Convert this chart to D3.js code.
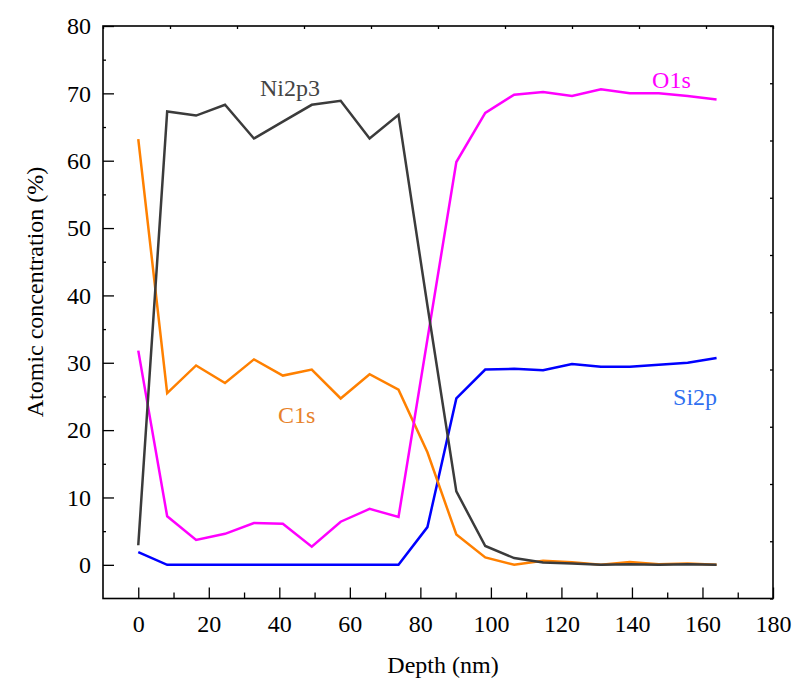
<!DOCTYPE html>
<html>
<head>
<meta charset="utf-8">
<script src="https://cdn.jsdelivr.net/npm/d3@7"></script>
<style>
body { margin: 0; background: #fff; }
svg text { font-family: "Liberation Serif", "Times New Roman", serif; }
</style>
</head>
<body>
<script>
//depth profile data
var depth = [0, 8.2, 16.4, 24.6, 32.8, 41, 49.2, 57.4, 65.6, 73.8, 82, 90.2, 98.4, 106.6, 114.8, 123, 131.2, 139.4, 147.6, 155.8, 164];
var ni2p3 = [2.9, 67.3, 66.7, 68.3, 63.3, 65.8, 68.3, 68.9, 63.3, 66.8, 38.5, 10.9, 2.8, 1.0, 0.35, 0.2, 0.0, 0.1, 0.0, 0.1, 0.0];
var c1s = [63.2, 25.5, 29.6, 27.0, 30.5, 28.1, 29.0, 24.7, 28.3, 26.0, 16.7, 4.5, 1.1, 0.0, 0.6, 0.4, 0.0, 0.4, 0.1, 0.2, 0.0];
var o1s = [31.8, 7.2, 3.7, 4.6, 6.2, 6.1, 2.7, 6.4, 8.3, 7.1, 33.5, 59.8, 67.1, 69.8, 70.2, 69.6, 70.6, 70.0, 70.0, 69.6, 69.1];
var si2p = [1.9, 0, 0, 0, 0, 0, 0, 0, 0, 0, 5.6, 24.7, 29.0, 29.1, 28.9, 29.8, 29.4, 29.4, 29.7, 30.0, 30.7];

//tick values
var xTicks = [0, 20, 40, 60, 80, 100, 120, 140, 160, 180];
var xMinor = [10, 30, 50, 70, 90, 110, 130, 150, 170];
var yTicks = [0, 10, 20, 30, 40, 50, 60, 70, 80];
var yMinor = [5, 15, 25, 35, 45, 55, 65, 75];

//curve labels (centre x, baseline y in data units)
var labelNames = ["Ni2p3", "O1s", "C1s", "Si2p"];
var labelX = [43, 151.2, 44.9, 157.9];
var labelY = [69.6, 70.8, 21.0, 23.7];

var lineColors = {"Ni2p3": "#3b3b3b", "O1s": "#ff00ff", "C1s": "#ff8000", "Si2p": "#0000ff"};
var labelColors = {"Ni2p3": "#444444", "O1s": "#ff00ff", "C1s": "#e8822a", "Si2p": "#2f6ff0"};

setChart();

//centre a text by hand (start anchor) using its measured length
function centreText(sel){
    sel.each(function(){
        var node = d3.select(this);
        var len = this.getComputedTextLength();
        node.attr("x", +node.attr("x") - len / 2);
    });
};

function setChart(){
    var width = 795,
        height = 687;
    var left = 103, top = 26, plotW = 670, plotH = 572.5;

    var svg = d3.select("body")
        .append("svg")
        .attr("width", width)
        .attr("height", height);

    var x = d3.scaleLinear().domain([-10, 180]).range([left, left + plotW]);
    var y = d3.scaleLinear().domain([-5, 80]).range([top + plotH, top]);

    //bottom axis, ticks pointing inward
    var xAxis = svg.append("g")
        .attr("transform", "translate(0," + (top + plotH) + ")")
        .call(d3.axisBottom(x).tickValues(xTicks).tickSize(-11).tickPadding(16));
    svg.append("g")
        .attr("transform", "translate(0," + (top + plotH) + ")")
        .call(d3.axisBottom(x).tickValues(xMinor).tickSize(-6).tickFormat(""));

    //left axis
    var yAxis = svg.append("g")
        .attr("transform", "translate(" + left + ",0)")
        .call(d3.axisLeft(y).tickValues(yTicks).tickSize(-11).tickPadding(12));
    svg.append("g")
        .attr("transform", "translate(" + left + ",0)")
        .call(d3.axisLeft(y).tickValues(yMinor).tickSize(-3).tickFormat(""));

    //top and right axes only carry small marks at tenths of the frame
    var fx = d3.scaleLinear().domain([0, 10]).range([left, left + plotW]);
    var fy = d3.scaleLinear().domain([0, 10]).range([top + plotH, top]);
    svg.append("g")
        .attr("transform", "translate(0," + top + ")")
        .call(d3.axisTop(fx).ticks(10).tickSize(-3).tickFormat(""));
    svg.append("g")
        .attr("transform", "translate(" + (left + plotW) + ",0)")
        .call(d3.axisRight(fy).ticks(10).tickSize(-3).tickFormat(""));

    svg.selectAll("g")
        .attr("font-family", null)
        .attr("text-anchor", null)
        .attr("font-size", 24);
    svg.selectAll(".domain").remove();
    svg.selectAll(".tick line")
        .attr("stroke", "#000")
        .attr("stroke-width", 1.3);
    svg.selectAll(".tick text").attr("fill", "#000");

    //x labels: centre on tick; y labels: right edge 12px left of axis
    xAxis.selectAll(".tick text").attr("x", 0).call(centreText);
    yAxis.selectAll(".tick text").each(function(){
        d3.select(this).attr("x", -12 - this.getComputedTextLength());
    });

    //frame
    svg.append("rect")
        .attr("x", left)
        .attr("y", top)
        .attr("width", plotW)
        .attr("height", plotH)
        .attr("fill", "none")
        .attr("stroke", "#000")
        .attr("stroke-width", 1.6);

    //lines
    var series = [
        {name: "Si2p", values: si2p},
        {name: "C1s", values: c1s},
        {name: "O1s", values: o1s},
        {name: "Ni2p3", values: ni2p3}
    ];
    var line = d3.line()
        .x(function(d, i){ return x(depth[i]); })
        .y(function(d){ return y(d); });
    svg.selectAll(".series")
        .data(series)
        .enter()
        .append("path")
        .attr("class", "series")
        .attr("d", function(d){ return line(d.values); })
        .attr("fill", "none")
        .attr("stroke", function(d){ return lineColors[d.name]; })
        .attr("stroke-width", 2.5)
        .attr("stroke-linejoin", "miter");

    //labels next to curves
    svg.selectAll(".label")
        .data(labelNames)
        .enter()
        .append("text")
        .attr("class", "label")
        .attr("x", function(d, i){ return x(labelX[i]); })
        .attr("y", function(d, i){ return y(labelY[i]); })
        .attr("fill", function(d){ return labelColors[d]; })
        .attr("font-size", 24)
        .text(function(d){ return d; })
        .call(centreText);

    //axis titles
    svg.append("text")
        .attr("x", 443)
        .attr("y", 673)
        .attr("font-size", 24)
        .text("Depth (nm)")
        .call(centreText);
    svg.append("text")
        .attr("transform", "translate(43,292) rotate(-90)")
        .attr("x", 0)
        .attr("y", 0)
        .attr("font-size", 24)
        .text("Atomic concentration (%)")
        .call(centreText);
};
</script>
</body>
</html>
